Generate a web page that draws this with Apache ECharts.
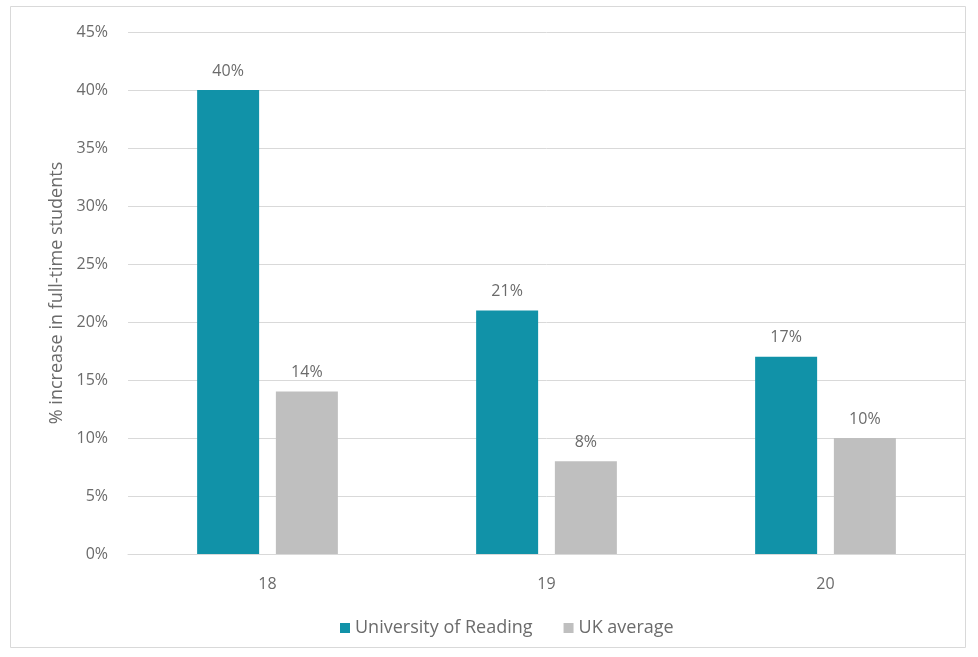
<!DOCTYPE html>
<html><head><meta charset="utf-8">
<script src="https://cdn.jsdelivr.net/npm/echarts@6/dist/echarts.min.js"></script>
<style>html,body{margin:0;padding:0;background:#fff}#c{width:978px;height:657px}</style>
</head><body><div id="c"></div>
<script>
const categories = ['18', '19', '20'];
const seriesNames = ['University of Reading', 'UK average'];
const reading = [40, 21, 17];
const ukAverage = [14, 8, 10];
const yTicks = {min: 0, max: 45, interval: 5};

const chart = echarts.init(document.getElementById('c'));
const font = 'Open Sans, Noto Sans, sans-serif';
const txt = '#6b6b6b';
const labelStyle = {show: true, position: 'top', distance: 11, formatter: p => p.value + '%', color: txt, fontSize: 16, fontFamily: font};
chart.setOption({
  animation: false,
  graphic: [{type: 'rect', shape: {x: 10.5, y: 6.5, width: 955, height: 641}, style: {fill: 'none', stroke: '#d9d9d9', lineWidth: 1}}],
  grid: {left: 128, right: 13, top: 32, bottom: 103},
  legend: {data: seriesNames, bottom: 15, left: 335, itemWidth: 10, itemHeight: 10, itemGap: 31,
    icon: 'rect', textStyle: {color: txt, fontSize: 18, fontFamily: font}},
  xAxis: {type: 'category', data: categories, axisTick: {show: false},
    axisLine: {lineStyle: {color: '#d9d9d9'}},
    axisLabel: {color: txt, fontSize: 16, fontFamily: font, margin: 22}},
  yAxis: {type: 'value', min: yTicks.min, max: yTicks.max, interval: yTicks.interval,
    name: '% increase in full-time students', nameLocation: 'middle', nameGap: 60,
    nameTextStyle: {color: txt, fontSize: 18, fontFamily: font},
    axisLabel: {formatter: '{value}%', color: txt, fontSize: 16, fontFamily: font, margin: 20},
    splitLine: {lineStyle: {color: '#d9d9d9'}}},
  series: [
    {name: seriesNames[0], type: 'bar', data: reading, barWidth: 62, barGap: '27%', itemStyle: {color: '#1192A8'}, label: labelStyle},
    {name: seriesNames[1], type: 'bar', data: ukAverage, barWidth: 62, itemStyle: {color: '#BFBFBF'}, label: labelStyle}
  ]
});
</script></body></html>
